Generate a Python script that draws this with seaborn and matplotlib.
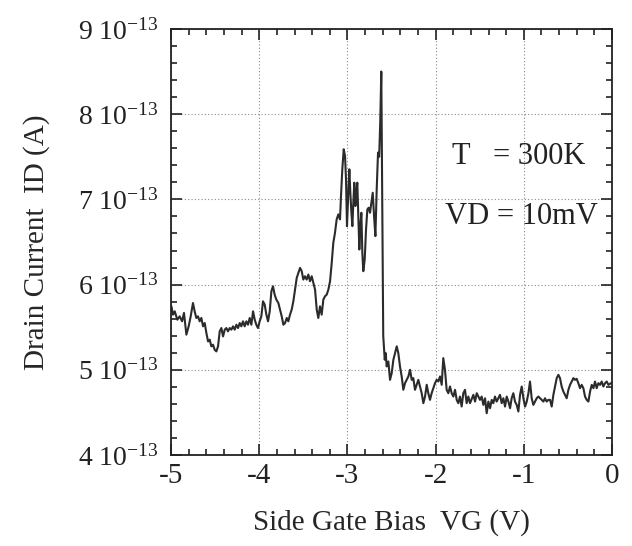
import matplotlib
matplotlib.use("Agg")

import numpy as np
import matplotlib.pyplot as plt
from matplotlib.ticker import MultipleLocator
import seaborn as sns

# side gate bias VG (V) and drain current ID (units of 1e-13 A)
vg_left = [-4.996, -4.977, -4.958, -4.928, -4.902, -4.875, -4.853, -4.826, -4.800, -4.777,
           -4.751, -4.732, -4.713, -4.694, -4.675, -4.656, -4.637, -4.618, -4.599, -4.580,
           -4.561, -4.543, -4.524, -4.505, -4.486, -4.467, -4.448, -4.429, -4.410, -4.391,
           -4.373, -4.354, -4.335, -4.316, -4.297, -4.278, -4.259, -4.240, -4.221, -4.203,
           -4.184, -4.165, -4.146, -4.127, -4.108, -4.089, -4.070, -4.051, -4.033, -4.014,
           -3.995, -3.976, -3.957, -3.938, -3.919, -3.900, -3.881, -3.862, -3.844, -3.825,
           -3.806]
id_left = [5.745, 5.647, 5.686, 5.588, 5.627, 5.569, 5.667, 5.412, 5.510, 5.627,
           5.784, 5.686, 5.608, 5.627, 5.569, 5.608, 5.510, 5.549, 5.431, 5.333,
           5.353, 5.275, 5.294, 5.235, 5.216, 5.275, 5.451, 5.490, 5.392, 5.471,
           5.490, 5.451, 5.490, 5.471, 5.510, 5.471, 5.529, 5.490, 5.549, 5.510,
           5.569, 5.510, 5.569, 5.529, 5.608, 5.529, 5.686, 5.588, 5.529, 5.490,
           5.569, 5.627, 5.804, 5.765, 5.647, 5.569, 5.686, 5.922, 5.980, 5.882,
           5.824]

vg_rise = [-3.783, -3.764, -3.745, -3.726, -3.707, -3.688, -3.670, -3.651, -3.632, -3.613,
           -3.594, -3.575, -3.556, -3.537, -3.518, -3.500, -3.481, -3.462, -3.443, -3.424,
           -3.405, -3.386, -3.367, -3.348, -3.330, -3.311, -3.292, -3.273, -3.254, -3.235,
           -3.216, -3.197, -3.178, -3.160, -3.141, -3.122, -3.103, -3.084, -3.073, -3.058,
           -3.042, -3.027, -3.016, -3.005, -2.990, -2.978, -2.967, -2.956, -2.944, -2.933,
           -2.922, -2.910, -2.899, -2.888, -2.876, -2.865, -2.854, -2.842, -2.831, -2.820,
           -2.804, -2.789, -2.774, -2.759, -2.744, -2.729, -2.713, -2.698, -2.683, -2.668,
           -2.653]
id_rise = [5.784, 5.706, 5.627, 5.529, 5.549, 5.608, 5.569, 5.647, 5.706, 5.804,
           5.941, 6.078, 6.137, 6.196, 6.157, 6.059, 6.098, 6.059, 6.118, 6.039,
           6.098, 6.020, 5.941, 5.706, 5.608, 5.745, 5.647, 5.824, 5.863, 5.882,
           5.941, 6.039, 6.255, 6.490, 6.608, 6.765, 6.824, 6.765, 7.039, 7.353,
           7.588, 7.510, 7.235, 6.686, 7.078, 7.353, 7.078, 6.863, 6.686, 6.961,
           7.196, 6.922, 7.078, 7.196, 6.765, 6.412, 6.686, 6.843, 6.373, 6.157,
           6.294, 6.647, 6.882, 6.902, 6.843, 6.961, 7.078, 6.804, 6.569, 7.118,
           7.549]

vg_spike = [-2.640, -2.628, -2.616, -2.605, -2.594, -2.577]
id_spike = [7.50, 7.90, 8.50, 7.00, 5.40, 5.118]

vg_mid = [-2.566, -2.555, -2.536, -2.517, -2.498, -2.479, -2.460, -2.441, -2.423, -2.404,
          -2.385, -2.366, -2.347, -2.328, -2.309, -2.290, -2.271, -2.253, -2.234, -2.215,
          -2.196, -2.177, -2.158, -2.139, -2.120, -2.101, -2.083, -2.064, -2.045, -2.026,
          -2.007, -1.988, -1.969, -1.950, -1.931, -1.913, -1.894, -1.875, -1.856, -1.837,
          -1.818, -1.799, -1.780, -1.761, -1.743, -1.724, -1.705, -1.686, -1.667, -1.648,
          -1.629, -1.610]
id_mid = [5.196, 5.039, 5.098, 4.882, 4.961, 5.118, 5.196, 5.275, 5.196, 5.039,
          4.922, 4.765, 4.843, 4.882, 4.922, 5.000, 4.882, 4.902, 4.765, 4.824,
          4.882, 4.804, 4.725, 4.608, 4.686, 4.824, 4.725, 4.647, 4.725, 4.784,
          4.843, 4.882, 4.863, 4.922, 4.824, 5.137, 5.000, 4.765, 4.725, 4.804,
          4.725, 4.686, 4.765, 4.647, 4.608, 4.686, 4.569, 4.725, 4.765, 4.608,
          4.686, 4.608]

vg_right = [-1.572, -1.553, -1.534, -1.515, -1.497, -1.478, -1.459, -1.440, -1.421, -1.402,
            -1.383, -1.364, -1.346, -1.327, -1.308, -1.289, -1.270, -1.251, -1.232, -1.213,
            -1.194, -1.175, -1.156, -1.138, -1.119, -1.100, -1.081, -1.062, -1.043, -1.024,
            -1.005, -0.986, -0.967, -0.948, -0.930, -0.911, -0.892, -0.873, -0.854, -0.835,
            -0.816, -0.797, -0.778, -0.760, -0.741, -0.722, -0.703, -0.684, -0.665, -0.646,
            -0.627, -0.608, -0.590, -0.571, -0.552, -0.533, -0.514, -0.495, -0.476, -0.457,
            -0.438, -0.420, -0.401, -0.382, -0.363, -0.344, -0.325, -0.306, -0.287, -0.268,
            -0.249, -0.230, -0.211, -0.193, -0.174, -0.155, -0.136, -0.117, -0.098, -0.079,
            -0.060, -0.041, 0.000]
id_right = [4.706, 4.627, 4.725, 4.686, 4.647, 4.686, 4.588, 4.666, 4.490, 4.627,
            4.549, 4.647, 4.608, 4.686, 4.627, 4.666, 4.706, 4.608, 4.666, 4.568,
            4.686, 4.627, 4.549, 4.666, 4.725, 4.627, 4.588, 4.510, 4.706, 4.804,
            4.666, 4.568, 4.627, 4.725, 4.862, 4.666, 4.588, 4.627, 4.666, 4.686,
            4.666, 4.647, 4.627, 4.666, 4.627, 4.647, 4.647, 4.568, 4.706, 4.804,
            4.902, 4.941, 4.902, 4.804, 4.745, 4.706, 4.666, 4.764, 4.823, 4.862,
            4.902, 4.882, 4.894, 4.843, 4.784, 4.823, 4.784, 4.686, 4.647, 4.627,
            4.745, 4.823, 4.784, 4.862, 4.784, 4.843, 4.823, 4.862, 4.804, 4.843,
            4.862, 4.823, 4.850]

y_ticks = [4, 5, 6, 7, 8, 9]
x_ticks = [-5, -4, -3, -2, -1, 0]

vg = np.concatenate([vg_left, vg_rise, vg_spike, vg_mid, vg_right])
id_amps = np.concatenate([id_left, id_rise, id_spike, id_mid, id_right]) * 1e-13

sns.set_theme(style="ticks")
plt.rcParams["font.family"] = ["Liberation Serif", "DejaVu Serif"]
plt.rcParams["mathtext.default"] = "regular"

fig = plt.figure(figsize=(6.32, 5.46), dpi=100)
ax = fig.add_axes([0.2706, 0.1667, 0.6978, 0.7802])

sns.lineplot(x=vg, y=id_amps, ax=ax, color="#2b2b2b", linewidth=1.5, errorbar=None)

ax.set_xlim(-5, 0)
ax.set_ylim(4e-13, 9e-13)
ax.set_xticks(x_ticks)
ax.set_xticklabels([str(t) for t in x_ticks])
ax.set_yticks([t * 1e-13 for t in y_ticks])
ax.set_yticklabels([f"{t} 10$^{{-13}}$" for t in y_ticks])
ax.xaxis.set_minor_locator(MultipleLocator(0.2))
ax.yaxis.set_minor_locator(MultipleLocator(0.2e-13))

ax.grid(True, which="major", linestyle=(0, (1, 2)), color="#8a8a8a", linewidth=0.8)
ax.tick_params(which="both", direction="in", top=True, right=True, width=1.2,
               colors="#222222", labelsize=20)
ax.tick_params(which="major", length=8)
ax.tick_params(which="minor", length=4)
ax.tick_params(axis="x", pad=6, labelsize=21)
ax.tick_params(axis="y", pad=9)
for spine in ax.spines.values():
    spine.set_linewidth(1.3)
    spine.set_color("#222222")

ax.set_xlabel("Side Gate Bias  VG (V)", fontsize=21, labelpad=14)
ax.set_ylabel("Drain Current  ID (A)", fontsize=21, labelpad=20)

ax.text(-1.81, 7.5e-13, "T   = 300K", fontsize=22, va="center", color="#222222")
ax.text(-1.89, 6.8e-13, "VD = 10mV", fontsize=22, va="center", color="#222222")

fig.savefig("out.png", dpi=100)
